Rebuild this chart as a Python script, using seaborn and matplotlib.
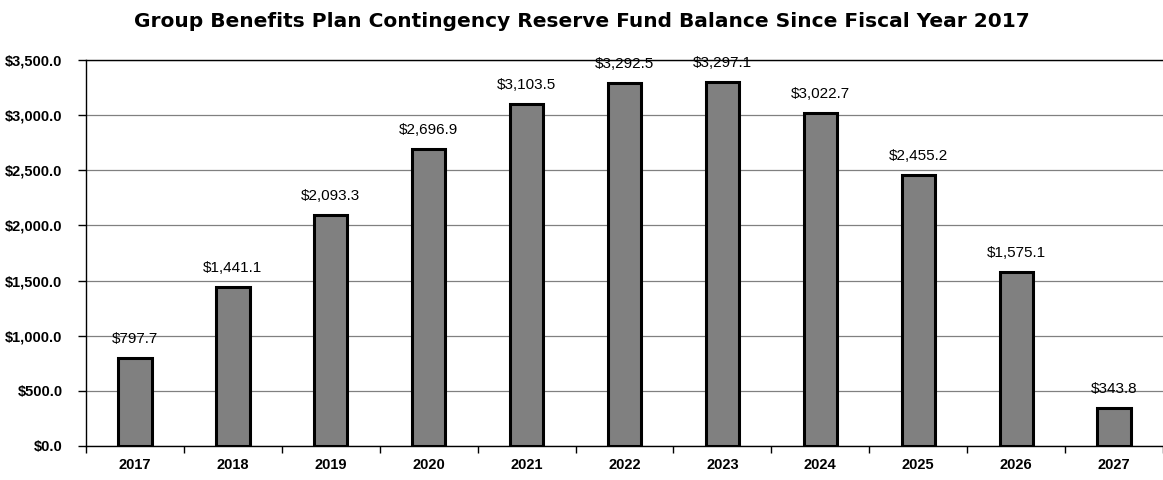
import matplotlib
matplotlib.use("Agg")
import matplotlib.pyplot as plt
import seaborn as sns
import pandas as pd
from matplotlib.ticker import FuncFormatter, FixedLocator

years = ["2017", "2018", "2019", "2020", "2021", "2022", "2023", "2024", "2025", "2026", "2027"]
balances = [797.7, 1441.1, 2093.3, 2696.9, 3103.5, 3292.5, 3297.1, 3022.7, 2455.2, 1575.1, 343.8]
title = "Group Benefits Plan Contingency Reserve Fund Balance Since Fiscal Year 2017"

df = pd.DataFrame({"year": years, "balance": balances})

sns.set_style("white")
plt.rcParams["text.color"] = "black"
plt.rcParams["xtick.color"] = "black"
plt.rcParams["ytick.color"] = "black"
plt.rcParams["xtick.labelcolor"] = "black"
plt.rcParams["ytick.labelcolor"] = "black"

fig = plt.figure(figsize=(11.63, 4.8), dpi=100)
ax = fig.add_axes([0.074, 0.071, 0.926, 0.804])

sns.barplot(data=df, x="year", y="balance", color="#808080", width=0.34,
            edgecolor="black", linewidth=2.2, saturation=1, ax=ax)

ax.set_ylim(0, 3500)
ax.set_xlim(-0.5, len(years) - 0.5)
ax.set_yticks(range(0, 3501, 500))
ax.yaxis.set_major_formatter(FuncFormatter(lambda v, p: f"${v:,.1f}"))
ax.grid(axis="y", color="#808080", linewidth=0.9)
ax.set_axisbelow(True)
ax.set_xlabel("")
ax.set_ylabel("")

for s in ["left", "bottom", "top"]:
    ax.spines[s].set_visible(True)
    ax.spines[s].set_color("black")
    ax.spines[s].set_linewidth(1.0)
ax.spines["right"].set_visible(False)

ax.tick_params(axis="y", direction="out", length=6, width=1, color="black", left=True, pad=11)
ax.tick_params(axis="x", which="major", length=0, pad=9)
ax.xaxis.set_minor_locator(FixedLocator([i - 0.5 for i in range(len(years) + 1)]))
ax.tick_params(axis="x", which="minor", direction="out", length=5, width=1, color="black", bottom=True)

for lab in ax.get_xticklabels() + ax.get_yticklabels():
    lab.set_fontfamily(["Liberation Sans", "DejaVu Sans"])
    lab.set_fontweight("bold")
    lab.set_fontsize(10.5)
    lab.set_color("black")

for i, v in enumerate(balances):
    ax.text(i, v + 136, f"${v:,.1f}", ha="center", va="baseline",
            fontsize=11, color="black", family=["Liberation Sans", "DejaVu Sans"])

fig.text(0.5, 0.975, title, ha="center", va="top", fontsize=14.5,
         fontweight="bold", color="black", family=["DejaVu Sans"])

fig.savefig("out.png", dpi=100)
